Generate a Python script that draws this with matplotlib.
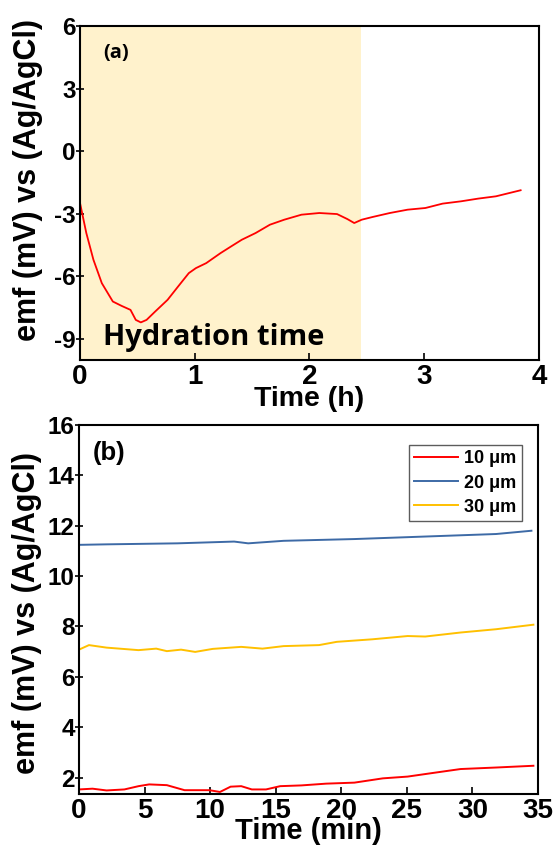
import matplotlib
matplotlib.use("Agg")
from matplotlib import pyplot as plt

# panel (a): emf during hydration, time in hours
time_h = [0.0, 0.055, 0.117, 0.19, 0.286, 0.363, 0.44, 0.486, 0.53, 0.58, 0.655,
          0.763, 0.855, 0.948, 1.01, 1.10, 1.225, 1.317, 1.41, 1.53, 1.655, 1.78,
          1.93, 2.086, 2.24, 2.33, 2.39, 2.455, 2.55, 2.70, 2.855, 3.01, 3.16,
          3.32, 3.47, 3.625, 3.84]
emf_a = [-2.48, -3.92, -5.2, -6.32, -7.2, -7.41, -7.6, -8.08, -8.2, -8.08, -7.68,
         -7.12, -6.48, -5.84, -5.6, -5.36, -4.88, -4.56, -4.24, -3.92, -3.52, -3.28,
         -3.04, -2.96, -3.01, -3.25, -3.44, -3.28, -3.15, -2.96, -2.8, -2.72, -2.51,
         -2.4, -2.27, -2.16, -1.87]
hydration_end = 2.45

# panel (b): emf vs time (min) for three thicknesses
t10 = [0, 1.03, 2.1, 3.46, 4.54, 5.35, 6.7, 8.05, 9.94, 10.75, 11.56, 12.37, 13.18,
       14.26, 15.34, 16.96, 18.85, 21.0, 23.17, 25.06, 27.2, 29.1, 31.8, 34.65]
emf10 = [1.53, 1.56, 1.49, 1.53, 1.66, 1.73, 1.70, 1.50, 1.50, 1.43, 1.64, 1.66, 1.53,
         1.53, 1.66, 1.69, 1.76, 1.80, 1.97, 2.04, 2.2, 2.34, 2.40, 2.47]
t20 = [0, 2.1, 7.5, 11.83, 12.9, 15.6, 21.0, 26.4, 31.8, 34.5]
emf20 = [11.24, 11.26, 11.30, 11.37, 11.30, 11.40, 11.47, 11.57, 11.67, 11.80]
t30 = [0, 0.76, 2.1, 4.54, 5.89, 6.7, 7.78, 8.86, 10.2, 12.37, 13.99, 15.6, 18.3,
       19.66, 22.36, 25.06, 26.4, 29.1, 31.8, 34.65]
emf30 = [7.08, 7.26, 7.16, 7.06, 7.12, 7.02, 7.08, 6.99, 7.11, 7.19, 7.12, 7.22, 7.26,
         7.39, 7.49, 7.62, 7.60, 7.76, 7.89, 8.07]
labels_b = ["10 \u03bcm", "20 \u03bcm", "30 \u03bcm"]

plt.rcParams['font.family'] = ['Liberation Sans', 'DejaVu Sans']
plt.rcParams['font.weight'] = 'bold'
plt.rcParams['axes.unicode_minus'] = False

fig = plt.figure(figsize=(5.56, 8.46), dpi=100)
axA = fig.add_axes([0.1439, 0.5745, 0.8255, 0.3948])
axB = fig.add_axes([0.1421, 0.0615, 0.8255, 0.4362])

for ax in (axA, axB):
    for s in ax.spines.values():
        s.set_linewidth(1.5)
    ax.tick_params(axis='x', direction='in', length=5, width=1.2, labelsize=20, pad=3)
    ax.tick_params(axis='y', direction='inout', length=6, width=1.2, labelsize=17.5, pad=0)
    ax.tick_params(top=False, right=False)

# (a)
axA.axvspan(0, hydration_end, color='#fff2cc', lw=0, zorder=0)
axA.plot(time_h, emf_a, color='red', lw=1.3)
axA.set_xlim(0, 4)
axA.set_ylim(-10, 6)
axA.set_xticks([0, 1, 2, 3, 4])
axA.set_yticks([-9, -6, -3, 0, 3, 6])
axA.set_xlabel("Time (h)", fontsize=20.5, fontweight='bold', labelpad=-3)
axA.set_ylabel("emf (mV) vs (Ag/AgCl)", fontsize=22, fontweight='bold')
axA.yaxis.set_label_coords(-0.081, 0.539)
axA.text(0.05, 0.919, "(a)", transform=axA.transAxes, fontsize=14.5,
         fontweight='bold', family='Open Sans', va='center')
axA.text(0.05, 0.066, "Hydration time", transform=axA.transAxes, fontsize=21,
         fontweight='bold', family='Open Sans', va='center')

# (b)
axB.plot(t10, emf10, color='#ff0000', lw=1.4, label=labels_b[0])
axB.plot(t20, emf20, color='#3d6aa6', lw=1.4, label=labels_b[1])
axB.plot(t30, emf30, color='#ffc000', lw=1.4, label=labels_b[2])
axB.set_xlim(0, 35)
axB.set_ylim(1.35, 16)
axB.set_xticks(range(0, 36, 5))
axB.set_yticks(range(2, 17, 2))
axB.set_xlabel("Time (min)", fontsize=21, fontweight='bold', labelpad=-5)
axB.set_ylabel("emf (mV) vs (Ag/AgCl)", fontsize=22, fontweight='bold')
axB.yaxis.set_label_coords(-0.081, 0.49)
axB.text(0.03, 0.924, "(b)", transform=axB.transAxes, fontsize=18.5,
         fontweight='bold', va='center')
leg = axB.legend(loc='upper right', bbox_to_anchor=(0.965, 0.946), borderaxespad=0,
                 fancybox=False, edgecolor='#333333', fontsize=13, handlelength=2.45,
                 labelspacing=0.4, borderpad=0.3, handletextpad=0.33)
leg.get_frame().set_linewidth(1.0)

fig.savefig("out.png", dpi=100)
